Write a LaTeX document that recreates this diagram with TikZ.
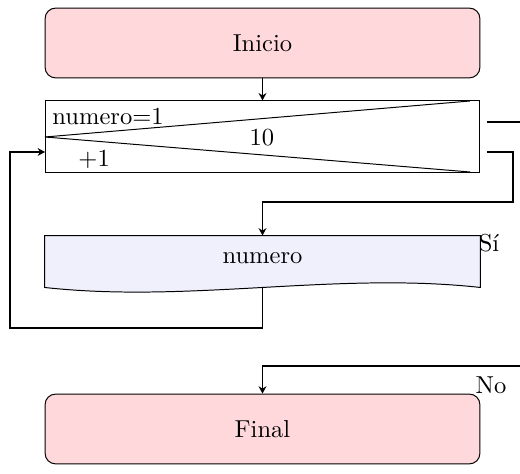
\documentclass[tikz,border=0pt]{standalone}
\usepackage{tikz}
\usetikzlibrary{arrows.meta, positioning, calc, backgrounds}
\definecolor{terminal}{HTML}{FFD8DC}
\definecolor{proceso}{HTML}{F0F0FC}

\begin{document}
\begin{tikzpicture}[
  x=0.01433cm, y=-0.01433cm,
  terminalbox/.style={rectangle, rounded corners=0.15cm, minimum width=6.23cm,
                minimum height=1cm, draw, fill=terminal, text centered},
  desdebox/.style={rectangle, minimum width=6.23cm, minimum height=1.02cm, draw},
  procesobox/.style={rectangle, minimum width=6.23cm, minimum height=0.63cm},
  flujo/.style={-{Stealth[length=3pt, width=3.2pt]}, thick},
  dato/.style={inner sep=0pt, anchor=west}
]
\useasboundingbox (0,0) rectangle (520,474);
\clip (0,0) rectangle (520,474);

\node[terminalbox] (inicio) at (262.5,43) {Inicio};

% ciclo desde
\node[desdebox] (desde) at (262.5,136.5) {};
\coordinate (vertice) at (45,137);
\draw (vertice) -- (470,101);
\draw (vertice) -- (470,172);
\node[dato] (valini) at (52,116) {numero=1};
\node (valfin) at (262,138) {10};
\node[dato] (paso) at (78,159) {+1};
\draw[flujo] (inicio) -- (desde);

% cuerpo del ciclo
\node[procesobox] (cuerpo) at (262.5,258) {numero};
\begin{scope}[on background layer]
\draw[fill=proceso] (cuerpo.north west) -- (cuerpo.north east)
  -- ($(cuerpo.south east)+(0,7)$)
  .. controls ($(cuerpo.south)+(72.5,-9)$) and ($(cuerpo.south)+(-72.5,23)$)
  .. ($(cuerpo.south west)+(0,7)$) -- cycle;
\end{scope}

\node[terminalbox] (final) at (262.5,429) {Final};

% salidas
\coordinate (si) at (487,152);
\coordinate (no) at (487,122);
\coordinate (retorno) at (262.5,287);
\coordinate (entrada) at (45,152);

\draw[flujo] (si) -| (513,202) -| (cuerpo.north);
\node (etsi) at (489,243) {Sí};
\draw[flujo] (retorno) |- (10,328) |- (entrada);
\draw[flujo] (no) -| (545,366) -| (final.north);
\node (etno) at (491,385) {No};

\end{tikzpicture}
\end{document}
